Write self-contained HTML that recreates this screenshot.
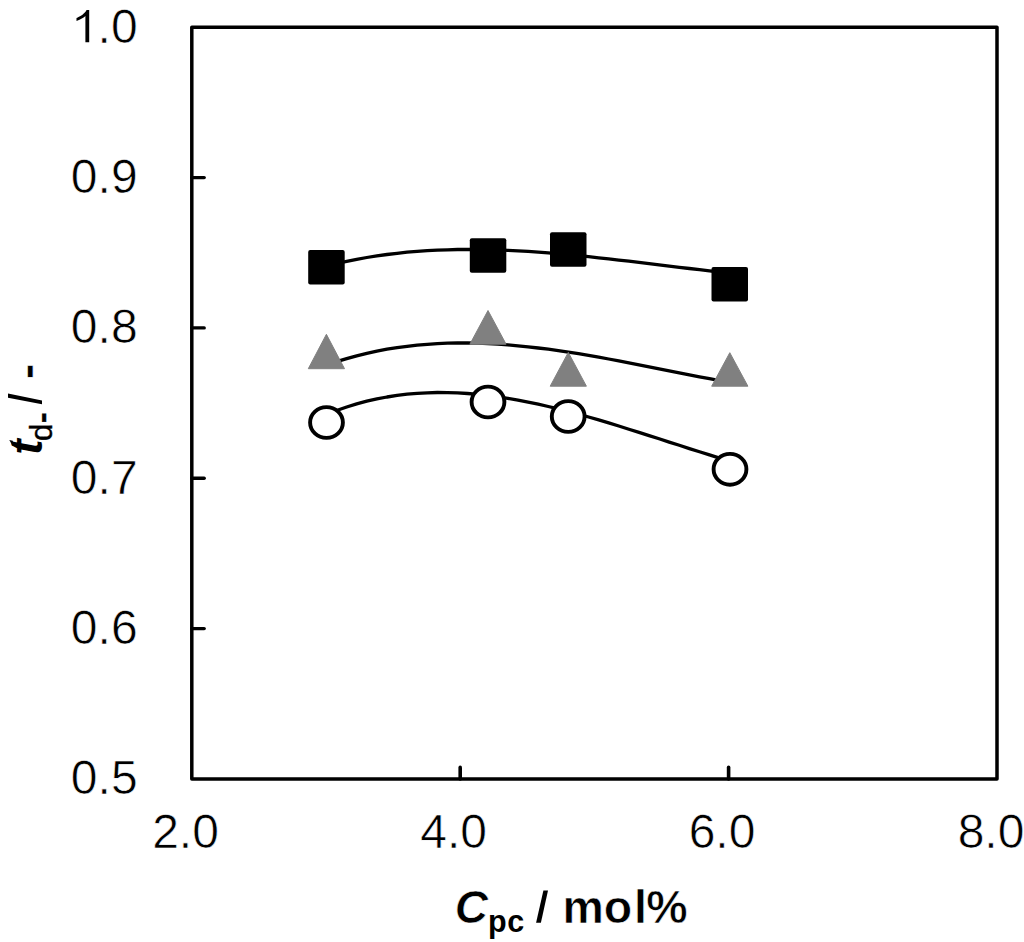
<!DOCTYPE html><html><head><meta charset="utf-8"><style>html,body{margin:0;padding:0;background:#fff;}svg{display:block;}text{font-family:"Liberation Sans",sans-serif;fill:#000;stroke:#fff;stroke-width:0.6px;} text.k{stroke:#000;stroke-width:0.4px;} text.n{stroke:none;}</style></head><body>
<svg width="1024" height="942" viewBox="0 0 1024 942">
<path d="M326.5,266.0 L336.6,263.5 L346.7,261.3 L356.7,259.3 L366.8,257.5 L376.9,255.9 L387.0,254.5 L397.1,253.3 L407.1,252.2 L417.2,251.4 L427.3,250.7 L437.4,250.2 L447.5,249.8 L457.5,249.5 L467.6,249.5 L477.7,249.5 L487.8,249.7 L497.9,249.9 L507.9,250.3 L518.0,250.8 L528.1,251.4 L538.2,252.1 L548.3,252.9 L558.3,253.8 L568.4,254.7 L578.5,255.7 L588.6,256.7 L598.7,257.8 L608.7,258.9 L618.8,260.1 L628.9,261.2 L639.0,262.4 L649.1,263.7 L659.1,264.9 L669.2,266.1 L679.3,267.3 L689.4,268.5 L699.5,269.7 L709.5,270.8 L719.6,272.0 L729.7,273.0" fill="none" stroke="#000" stroke-width="3.3" stroke-linejoin="round" stroke-linecap="round"/>
<path d="M326.5,365.0 L336.6,361.6 L346.7,358.6 L356.7,355.8 L366.8,353.3 L376.9,351.1 L387.0,349.2 L397.1,347.6 L407.1,346.3 L417.2,345.1 L427.3,344.3 L437.4,343.6 L447.5,343.2 L457.5,343.0 L467.6,343.0 L477.7,343.2 L487.8,343.6 L497.9,344.2 L507.9,344.9 L518.0,345.8 L528.1,346.8 L538.2,348.0 L548.3,349.2 L558.3,350.6 L568.4,352.1 L578.5,353.7 L588.6,355.4 L598.7,357.2 L608.7,359.0 L618.8,360.9 L628.9,362.8 L639.0,364.8 L649.1,366.8 L659.1,368.8 L669.2,370.8 L679.3,372.8 L689.4,374.8 L699.5,376.8 L709.5,378.7 L719.6,380.6 L729.7,382.5" fill="none" stroke="#000" stroke-width="3.3" stroke-linejoin="round" stroke-linecap="round"/>
<path d="M326.5,414.4 L336.6,410.5 L346.7,407.0 L356.7,403.9 L366.8,401.2 L376.9,398.9 L387.0,397.0 L397.1,395.4 L407.1,394.2 L417.2,393.4 L427.3,392.8 L437.4,392.5 L447.5,392.6 L457.5,392.9 L467.6,393.5 L477.7,394.4 L487.8,395.5 L497.9,396.8 L507.9,398.4 L518.0,400.1 L528.1,402.1 L538.2,404.2 L548.3,406.5 L558.3,408.9 L568.4,411.5 L578.5,414.2 L588.6,417.0 L598.7,419.9 L608.7,422.9 L618.8,426.0 L628.9,429.2 L639.0,432.4 L649.1,435.6 L659.1,438.8 L669.2,442.1 L679.3,445.3 L689.4,448.6 L699.5,451.8 L709.5,454.9 L719.6,458.1 L729.7,461.1" fill="none" stroke="#000" stroke-width="3.3" stroke-linejoin="round" stroke-linecap="round"/>
<rect x="308.2" y="250.1" width="36.5" height="34.5" rx="2" fill="#000"/>
<rect x="469.8" y="238.2" width="36.5" height="34.5" rx="2" fill="#000"/>
<rect x="550.0" y="232.2" width="36.5" height="34.5" rx="2" fill="#000"/>
<rect x="711.5" y="267.1" width="36.5" height="34.5" rx="2" fill="#000"/>
<path d="M326.4,334.3 L344.5,368.7 L308.3,368.7 Z" fill="#808080" stroke="#808080" stroke-width="1" stroke-linejoin="round"/>
<path d="M488.0,310.5 L506.1,344.2 L469.9,344.2 Z" fill="#808080" stroke="#808080" stroke-width="1" stroke-linejoin="round"/>
<path d="M568.3,352.4 L586.4,386.2 L550.2,386.2 Z" fill="#808080" stroke="#808080" stroke-width="1" stroke-linejoin="round"/>
<path d="M729.8,352.7 L747.9,386.2 L711.7,386.2 Z" fill="#808080" stroke="#808080" stroke-width="1" stroke-linejoin="round"/>
<ellipse cx="326.5" cy="422.5" rx="16.4" ry="15.4" fill="#fff" stroke="#000" stroke-width="3.9"/>
<ellipse cx="488.0" cy="402.0" rx="16.4" ry="15.4" fill="#fff" stroke="#000" stroke-width="3.9"/>
<ellipse cx="568.2" cy="416.5" rx="16.4" ry="15.4" fill="#fff" stroke="#000" stroke-width="3.9"/>
<ellipse cx="730.0" cy="469.3" rx="16.4" ry="15.4" fill="#fff" stroke="#000" stroke-width="3.9"/>
<path d="M191.8,27.2 H997.0 V779.0 H191.8 Z" fill="none" stroke="#000" stroke-width="3.5" stroke-linejoin="round"/>
<path d="M191.8,177.6 H204.2" stroke="#000" stroke-width="3.4" stroke-linecap="round"/>
<path d="M191.8,327.9 H204.2" stroke="#000" stroke-width="3.4" stroke-linecap="round"/>
<path d="M191.8,478.3 H204.2" stroke="#000" stroke-width="3.4" stroke-linecap="round"/>
<path d="M191.8,628.6 H204.2" stroke="#000" stroke-width="3.4" stroke-linecap="round"/>
<path d="M460.2,779.0 V767.4" stroke="#000" stroke-width="3.6" stroke-linecap="round"/>
<path d="M728.6,779.0 V767.4" stroke="#000" stroke-width="3.6" stroke-linecap="round"/>
<text transform="translate(137.6,42.6) scale(1,1)" font-size="48.0" text-anchor="end">.0</text>
<text transform="translate(137.6,192.6) scale(1,1)" font-size="48.0" text-anchor="end">0.9</text>
<text transform="translate(137.6,342.6) scale(1,1)" font-size="48.0" text-anchor="end">0.8</text>
<text transform="translate(137.6,493.6) scale(1,1)" font-size="48.0" text-anchor="end">0.7</text>
<text transform="translate(137.6,643.6) scale(1,1)" font-size="48.0" text-anchor="end">0.6</text>
<text transform="translate(137.6,793.6) scale(1,1)" font-size="48.0" text-anchor="end">0.5</text>
<path d="M85.4,42.2 L89.2,42.2 L89.2,9.9 L86.6,9.9 C85.5,12 83,14.5 80,16.2 C78.5,17 77.5,17.5 76.5,17.9 L76.5,21 C78.5,20.3 80.5,19.4 82.3,18.3 C83.5,17.6 84.6,16.8 85.4,16 Z" fill="#000"/>
<text transform="translate(185.5,848.4) scale(1,1)" font-size="48.0" text-anchor="middle">2.0</text>
<text transform="translate(453.7,848.4) scale(1,1)" font-size="48.0" text-anchor="middle">4.0</text>
<text transform="translate(722.0,848.4) scale(1,1)" font-size="48.0" text-anchor="middle">6.0</text>
<text transform="translate(991.0,848.4) scale(1,1)" font-size="48.0" text-anchor="middle">8.0</text>
<text x="454.7" y="922.6" font-size="46" font-weight="bold" font-style="italic">C</text>
<text x="488.0" y="931.8" font-size="30.5" font-weight="bold" class="n" letter-spacing="0.6">pc</text>
<path d="M536.1,922.7 L540.9,922.7 L548,890.5 L543.4,890.5 Z" fill="#000"/>
<text x="562.4" y="922.5" font-size="46.5" font-weight="bold">mo</text>
<text x="634.1" y="922.5" font-size="46.5" font-weight="bold">l</text>
<text x="646.3" y="922.5" font-size="46.5" font-weight="bold">%</text>
<text transform="translate(41.6,454.8) rotate(-90)" font-size="46.0" font-weight="bold" font-style="italic" class="n">t</text>
<text transform="translate(52.3,440.9) rotate(-90)" font-size="31.0" class="k">d</text>
<text transform="translate(52.3,423.0) rotate(-90)" font-size="32.0" font-weight="bold" class="k">-</text>
<path d="M12.8,440.7 L9.3,440.1 L12.8,446.3 Z" fill="#000"/>
<path d="M8,393.6 L8,397.7 L42,404.3 L42,400.5 Z" fill="#000"/>
<text transform="translate(42.4,379.1) rotate(-90)" font-size="46.0" font-weight="bold">-</text>
</svg></body></html>
